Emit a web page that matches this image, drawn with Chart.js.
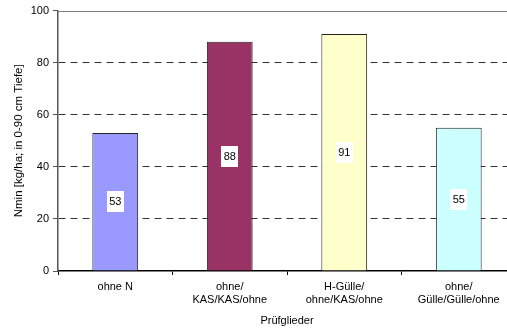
<!DOCTYPE html>
<html>
<head>
<meta charset="utf-8">
<script src="https://cdn.jsdelivr.net/npm/chart.js@4"></script>
<style>
  html, body { margin: 0; padding: 0; background: #fff; overflow: hidden; }
  #wrap { width: 507px; height: 331px; overflow: hidden; }
  canvas { display: block; }
</style>
</head>
<body>
<div id="wrap"><canvas id="c" width="518" height="331"></canvas></div>
<script>
// Prüfglieder (treatments) and Nmin values
const categories = [
  ['ohne N'],
  ['ohne/', 'KAS/KAS/ohne'],
  ['H-Gülle/', 'ohne/KAS/ohne'],
  ['ohne/', 'Gülle/Gülle/ohne']
];
const nminValues = [53, 88, 91, 55];
const barColors = ['#9999FF', '#993366', '#FFFFCC', '#CCFFFF'];
const yTicks = [0, 20, 40, 60, 80, 100];

const FONT = 'Liberation Sans, Arial, sans-serif';

// value labels in white boxes at the middle of each bar
const valueBoxes = {
  id: 'valueBoxes',
  afterDatasetsDraw(chart) {
    const ctx = chart.ctx;
    const meta = chart.getDatasetMeta(0);
    ctx.save();
    ctx.font = '11px ' + FONT;
    ctx.textAlign = 'center';
    ctx.textBaseline = 'middle';
    meta.data.forEach((bar, i) => {
      const txt = String(nminValues[i]);
      const cy = (bar.y + bar.base) / 2;
      const w = ctx.measureText(txt).width + 5;
      const h = 21;
      ctx.fillStyle = '#fff';
      ctx.fillRect(Math.round(bar.x - w / 2), Math.round(cy - h / 2), Math.round(w), h);
      ctx.fillStyle = '#000';
      ctx.fillText(txt, bar.x, cy + 0.5);
    });
    ctx.restore();
  }
};

// solid frame line along the top of the plot
const topLine = {
  id: 'topLine',
  beforeDatasetsDraw(chart) {
    const { ctx, chartArea } = chart;
    const y = Math.round(chart.scales.y.getPixelForValue(100)) + 0.5;
    ctx.save();
    ctx.strokeStyle = '#808080';
    ctx.lineWidth = 1;
    ctx.beginPath();
    ctx.moveTo(chartArea.left, y);
    ctx.lineTo(chartArea.right, y);
    ctx.stroke();
    ctx.restore();
  }
};

new Chart(document.getElementById('c'), {
  type: 'bar',
  data: {
    labels: categories,
    datasets: [{
      data: nminValues,
      backgroundColor: barColors,
      borderColor: '#222',
      borderWidth: 1,
      barPercentage: 0.4,
      categoryPercentage: 1.0
    }]
  },
  options: {
    responsive: false,
    animation: false,
    devicePixelRatio: 1,
    layout: { padding: { top: 10, right: 2, bottom: 0, left: 0 } },
    plugins: {
      legend: { display: false },
      tooltip: { enabled: false }
    },
    scales: {
      x: {
        grid: {
          display: true,
          drawOnChartArea: false,
          drawTicks: true,
          tickLength: 4,
          tickColor: '#000',
          offset: true
        },
        border: { display: true, color: '#000', width: 1.5 },
        ticks: {
          color: '#000',
          font: { family: FONT, size: 11 },
          padding: 5,
          maxRotation: 0,
          autoSkip: false
        },
        title: {
          display: true,
          text: 'Prüfglieder',
          color: '#000',
          font: { family: FONT, size: 11 },
          padding: { top: 0, bottom: 3 }
        },
        afterFit(scale) { scale.height = 60; }
      },
      y: {
        min: 0,
        max: 100,
        afterBuildTicks(scale) { scale.ticks = yTicks.map(v => ({ value: v })); },
        grid: {
          color: ctx => (ctx.tick && (ctx.tick.value === 0 || ctx.tick.value === 100)) ? 'rgba(0,0,0,0)' : '#333',
          lineWidth: 1,
          tickColor: '#555',
          tickLength: 5,
          tickBorderDash: []
        },
        border: { display: true, color: '#555', width: 1.5, dash: [7, 5] },
        ticks: {
          color: '#000',
          font: { family: FONT, size: 11 },
          padding: 4
        },
        title: {
          display: true,
          text: 'Nmin [kg/ha; in 0-90 cm Tiefe]',
          color: '#000',
          font: { family: FONT, size: 11.5 },
          padding: { top: 12, bottom: 0 }
        },
        afterFit(scale) { scale.width = 58; }
      }
    }
  },
  plugins: [topLine, valueBoxes]
});
</script>
</body>
</html>
